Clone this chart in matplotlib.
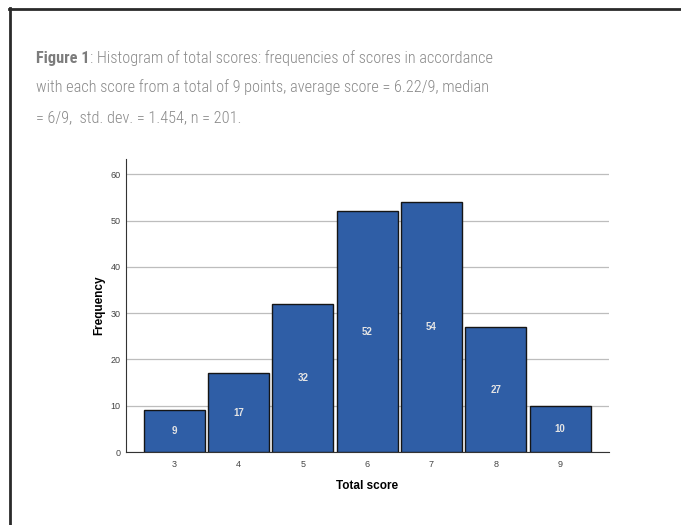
import matplotlib.pyplot as plt
from matplotlib.lines import Line2D
from matplotlib import font_manager


scores = [3, 4, 5, 6, 7, 8, 9]
frequencies = [9, 17, 32, 52, 54, 27, 10]
y_ticks = [0, 10, 20, 30, 40, 50, 60]

caption_lines = [
    "Histogram of total scores: frequencies of scores in accordance",
    "with each score from a total of 9 points, average score = 6.22/9, median",
    "= 6/9,  std. dev. = 1.454, n = 201.",
]

bar_color = "#2f5ea6"
caption_color = "#8a8a8a"
sans = ["Liberation Sans", "DejaVu Sans"]

# pick a narrow family if one is around
cap_family = ["Roboto", "DejaVu Sans"]
for fam in ["Liberation Sans Narrow", "Roboto Condensed", "Open Sans Condensed"]:
    try:
        font_manager.findfont(font_manager.FontProperties(family=fam), fallback_to_default=False)
        cap_family = [fam, "DejaVu Sans"]
        break
    except ValueError:
        pass

fig = plt.figure(figsize=(6.81, 5.25), dpi=100)
W, H = 681, 525

# frame lines (top and left only)
fig.add_artist(Line2D([9 / W, 1], [1 - 8.5 / H, 1 - 8.5 / H], transform=fig.transFigure, color="#2a2a2a", lw=2))
fig.add_artist(Line2D([10 / W, 10 / W], [0, 1 - 8 / H], transform=fig.transFigure, color="#2a2a2a", lw=2))

# caption, sized so the first line is ~456 px wide
size = 11.5
probe = fig.text(0, 0, "Figure 1: " + caption_lines[0], fontsize=size, family=cap_family, weight="light")
fig.canvas.draw()
size = size * 456 / probe.get_window_extent().width
probe.remove()

t = fig.text(36 / W, 1 - 63 / H, "Figure 1", fontsize=size, fontweight="bold", color="#7c7c7c",
             family=cap_family, va="baseline")
fig.canvas.draw()
bb = t.get_window_extent()
fig.text(bb.x1 / W, 1 - 63 / H, ": " + caption_lines[0], fontsize=size, color=caption_color,
         family=cap_family, weight="light", va="baseline")
fig.text(36 / W, 1 - 92 / H, caption_lines[1], fontsize=size, color=caption_color, family=cap_family,
         weight="light", va="baseline")
fig.text(36 / W, 1 - 122 / H, caption_lines[2], fontsize=size, color=caption_color, family=cap_family,
         weight="light", va="baseline")

# chart
ax = fig.add_axes([126 / W, 1 - 452 / H, (609 - 126) / W, (452 - 159) / H])
ax.bar(scores, frequencies, width=0.95, color=bar_color, edgecolor="#151515", lw=1, zorder=3)

for s, f in zip(scores, frequencies):
    ax.text(s, f / 2, str(f), ha="center", va="center", fontsize=7, fontweight="bold",
            color="#e4e4e4", family=sans, zorder=4)

ax.set_xlim(2.25, 9.76)
ax.set_ylim(0, 63.3)
ax.set_xticks(scores)
ax.set_yticks(y_ticks)
ax.tick_params(axis="both", length=0, labelsize=6.5, labelcolor="#444444")
ax.tick_params(axis="x", pad=6)
ax.tick_params(axis="y", pad=4)
for lab in ax.get_xticklabels() + ax.get_yticklabels():
    lab.set_family(sans)

ax.yaxis.grid(True, color="#bdbdbd", lw=0.9, zorder=0)
ax.set_axisbelow(True)
for side in ["top", "right"]:
    ax.spines[side].set_visible(False)
ax.spines["left"].set_color("#333333")
ax.spines["bottom"].set_color("#333333")

ax.set_xlabel("Total score", fontsize=8.5, fontweight="bold", family=sans, labelpad=8)
ax.set_ylabel("Frequency", fontsize=8.5, fontweight="bold", family=sans, labelpad=4)

plt.savefig("out.png", dpi=100)
